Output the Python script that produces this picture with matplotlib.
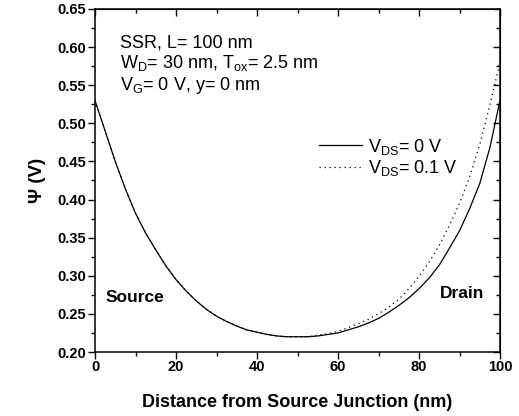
import matplotlib
matplotlib.use('Agg')
import matplotlib.pyplot as plt
from matplotlib.ticker import MultipleLocator

plt.rcParams['font.family'] = ['Liberation Sans', 'DejaVu Sans']
plt.rcParams['mathtext.fontset'] = 'custom'
plt.rcParams['mathtext.rm'] = 'Liberation Sans'
plt.rcParams['mathtext.it'] = 'Liberation Sans:italic'
plt.rcParams['mathtext.bf'] = 'Liberation Sans:bold'

# surface potential along the channel
x_nm = [0, 2.5, 5, 7.5, 10, 12.5, 15, 17.5, 20, 22.5, 25, 27.5, 30, 32.5,
        35, 37.5, 40, 42.5, 45, 47.5, 50, 52.5, 55, 57.5, 60, 62.5, 65,
        67.5, 70, 72.5, 75, 77.5, 80, 82.5, 85, 87.5, 90, 92.5, 95, 97.5, 100]
psi_vds0 = [0.530, 0.490, 0.450, 0.414, 0.382, 0.356, 0.334, 0.313, 0.295,
            0.280, 0.267, 0.256, 0.247, 0.240, 0.234, 0.229, 0.226, 0.223,
            0.221, 0.220, 0.220, 0.220, 0.221, 0.223, 0.225, 0.229, 0.233,
            0.238, 0.244, 0.252, 0.261, 0.271, 0.283, 0.297, 0.314, 0.336,
            0.359, 0.388, 0.421, 0.468, 0.530]
psi_vds01 = [0.530, 0.490, 0.450, 0.414, 0.382, 0.356, 0.334, 0.313, 0.295,
             0.280, 0.267, 0.256, 0.247, 0.240, 0.234, 0.229, 0.226, 0.223,
             0.221, 0.220, 0.220, 0.220, 0.222, 0.224, 0.227, 0.232, 0.237,
             0.243, 0.250, 0.259, 0.269, 0.283, 0.299, 0.318, 0.340, 0.366,
             0.395, 0.430, 0.472, 0.524, 0.580]

labels = [r'V$_{\rm DS}$= 0 V', r'V$_{\rm DS}$= 0.1 V']

fig = plt.figure(figsize=(5.19, 4.16), dpi=100)
ax = fig.add_axes([95 / 519, 1 - 352 / 416, 405 / 519, 343 / 416])

ax.plot(x_nm, psi_vds0, color='black', lw=0.9, label=labels[0])
ax.plot(x_nm, psi_vds01, color='black', lw=0.9, linestyle=(0, (1, 3)),
        label=labels[1])

ax.set_xlim(0, 100)
ax.set_ylim(0.20, 0.65)
ax.xaxis.set_major_locator(MultipleLocator(20))
ax.xaxis.set_minor_locator(MultipleLocator(10))
ax.yaxis.set_major_locator(MultipleLocator(0.05))
ax.yaxis.set_minor_locator(MultipleLocator(0.025))
ax.yaxis.set_major_formatter(lambda v, pos: f'{v:.2f}')
ax.tick_params(which='major', direction='out', length=5, width=1.0,
               labelsize=10.5)
ax.tick_params(axis='x', which='major', pad=0.5)
ax.tick_params(axis='y', which='major', pad=1.5)
ax.tick_params(which='minor', direction='out', length=3, width=1.0)
for lbl in ax.get_xticklabels() + ax.get_yticklabels():
    lbl.set_fontweight('bold')
for s in ax.spines.values():
    s.set_linewidth(1.1)

# mirrored ticks on top and right, pointing inward
top = ax.secondary_xaxis('top')
top.xaxis.set_major_locator(MultipleLocator(20))
top.xaxis.set_minor_locator(MultipleLocator(10))
top.tick_params(which='both', direction='in', labeltop=False, width=1.0)
top.tick_params(which='major', length=5)
top.tick_params(which='minor', length=3)
right = ax.secondary_yaxis('right')
right.yaxis.set_major_locator(MultipleLocator(0.05))
right.yaxis.set_minor_locator(MultipleLocator(0.025))
right.tick_params(which='both', direction='in', labelright=False, width=1.0)
right.tick_params(which='major', length=5)
right.tick_params(which='minor', length=3)

ax.set_xlabel('Distance from Source Junction (nm)', fontsize=13,
              fontweight='bold', labelpad=15)
ax.set_ylabel('Ψ (V)', fontsize=13.5, fontweight='bold', labelpad=8)

ax.text(0.062, 0.889, 'SSR, L= 100 nm', transform=ax.transAxes, fontsize=13)
ax.text(0.062, 0.828, r'W$_{\rm D}$= 30 nm, T$_{\rm ox}$= 2.5 nm',
        transform=ax.transAxes, fontsize=13)
ax.text(0.062, 0.764, r'V$_{\rm G}$= 0 V, y= 0 nm', transform=ax.transAxes,
        fontsize=13)

ax.text(2.5, 0.266, 'Source', fontsize=12.5, fontweight='bold')
ax.text(85.2, 0.271, 'Drain', fontsize=12.5, fontweight='bold')

ax.legend(loc='upper left', bbox_to_anchor=(0.553, 0.628), frameon=False,
          fontsize=13, handlelength=2.4, handletextpad=0.3, borderpad=0,
          borderaxespad=0, labelspacing=0.1)

fig.savefig('out.png', dpi=100)
